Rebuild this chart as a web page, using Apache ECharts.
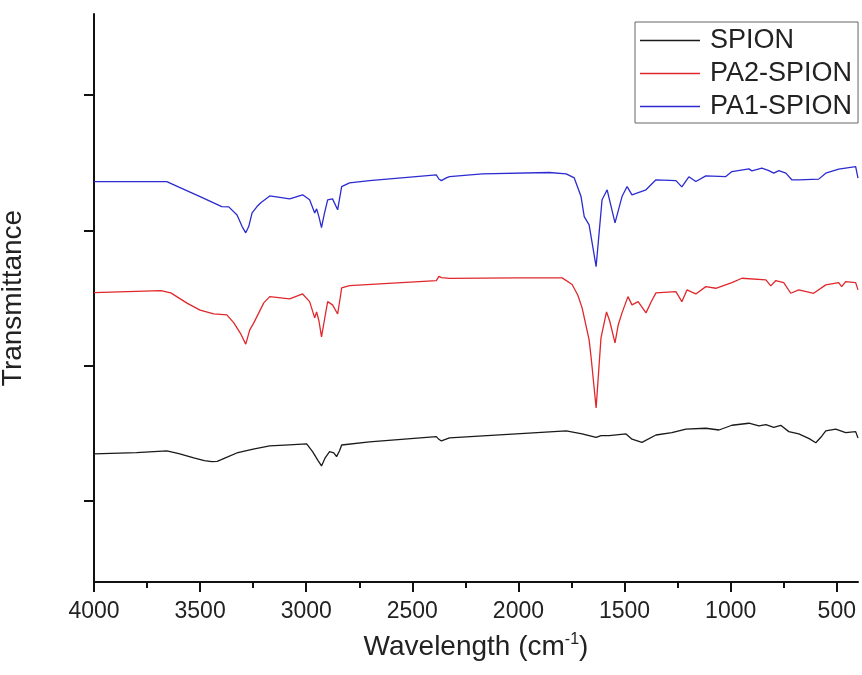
<!DOCTYPE html>
<html>
<head>
<meta charset="utf-8">
<script src="https://cdn.jsdelivr.net/npm/echarts@6/dist/echarts.min.js"></script>
<style>
  html, body { margin: 0; padding: 0; background: #fff; }
  #chart { width: 862px; height: 675px; }
</style>
</head>
<body>
<div id="chart"></div>
<script>
// wavenumber (cm-1), transmittance in arbitrary offset units
var spionWn = [4000, 3800, 3657, 3600, 3530, 3480, 3445, 3420, 3403, 3370, 3327, 3250, 3172, 3080, 2998, 2970, 2945, 2928, 2910, 2890, 2870, 2857, 2843, 2833, 2702, 2387, 2375, 2363, 2325, 2010, 1775, 1700, 1634, 1611, 1573, 1493, 1465, 1418, 1352, 1277, 1211, 1117, 1055, 994, 914, 867, 834, 797, 764, 726, 679, 630, 599, 575, 552, 505, 458, 411, 400];
var spionT = [0.347, 0.356, 0.369, 0.350, 0.317, 0.298, 0.290, 0.292, 0.303, 0.325, 0.354, 0.382, 0.406, 0.414, 0.421, 0.364, 0.300, 0.258, 0.320, 0.364, 0.355, 0.327, 0.370, 0.413, 0.436, 0.475, 0.455, 0.443, 0.465, 0.495, 0.517, 0.495, 0.469, 0.482, 0.482, 0.495, 0.456, 0.433, 0.487, 0.504, 0.530, 0.537, 0.524, 0.559, 0.574, 0.554, 0.564, 0.544, 0.559, 0.512, 0.495, 0.460, 0.430, 0.470, 0.517, 0.530, 0.504, 0.512, 0.465];

var pa2Wn = [4000, 3685, 3638, 3560, 3500, 3436, 3374, 3341, 3310, 3285, 3266, 3247, 3200, 3172, 3078, 3017, 2984, 2960, 2951, 2940, 2928, 2915, 2899, 2876, 2852, 2840, 2833, 2796, 2387, 2375, 2363, 2325, 2010, 1794, 1747, 1720, 1700, 1667, 1658, 1634, 1611, 1585, 1570, 1545, 1530, 1512, 1484, 1465, 1436, 1399, 1375, 1352, 1258, 1230, 1206, 1164, 1117, 1070, 994, 947, 834, 811, 787, 750, 717, 679, 609, 552, 491, 477, 458, 411, 400];
var pa2T = [1.540, 1.555, 1.538, 1.460, 1.410, 1.382, 1.375, 1.316, 1.239, 1.159, 1.264, 1.316, 1.464, 1.510, 1.493, 1.530, 1.473, 1.353, 1.397, 1.330, 1.212, 1.330, 1.473, 1.449, 1.382, 1.500, 1.575, 1.592, 1.629, 1.660, 1.651, 1.645, 1.649, 1.649, 1.600, 1.520, 1.427, 1.190, 1.067, 0.687, 1.205, 1.397, 1.330, 1.168, 1.300, 1.390, 1.510, 1.449, 1.473, 1.390, 1.470, 1.538, 1.547, 1.473, 1.560, 1.530, 1.584, 1.572, 1.614, 1.646, 1.634, 1.590, 1.629, 1.614, 1.535, 1.560, 1.535, 1.597, 1.614, 1.584, 1.621, 1.614, 1.560];

var pa1Wn = [4000, 3657, 3600, 3500, 3398, 3365, 3326, 3302, 3285, 3271, 3255, 3232, 3214, 3172, 3078, 3017, 2984, 2960, 2951, 2940, 2928, 2915, 2899, 2876, 2852, 2840, 2833, 2796, 2702, 2387, 2375, 2363, 2340, 2325, 2170, 1855, 1775, 1737, 1705, 1690, 1667, 1658, 1634, 1606, 1582, 1545, 1512, 1488, 1465, 1399, 1352, 1258, 1230, 1197, 1164, 1117, 1023, 994, 914, 900, 853, 820, 797, 773, 740, 712, 679, 585, 552, 491, 411, 400];
var pa1T = [2.361, 2.361, 2.320, 2.250, 2.176, 2.174, 2.114, 2.028, 1.982, 2.028, 2.129, 2.176, 2.204, 2.255, 2.233, 2.263, 2.226, 2.129, 2.159, 2.100, 2.021, 2.120, 2.226, 2.233, 2.152, 2.260, 2.324, 2.351, 2.368, 2.410, 2.380, 2.368, 2.388, 2.398, 2.418, 2.428, 2.418, 2.388, 2.250, 2.102, 2.041, 2.028, 1.732, 2.226, 2.300, 2.056, 2.250, 2.324, 2.263, 2.300, 2.374, 2.368, 2.322, 2.396, 2.361, 2.403, 2.398, 2.435, 2.455, 2.440, 2.460, 2.442, 2.423, 2.442, 2.423, 2.374, 2.374, 2.379, 2.423, 2.453, 2.472, 2.386];

var seriesNames = ['SPION', 'PA2-SPION', 'PA1-SPION'];
var xMajor = [500, 1000, 1500, 2000, 2500, 3000, 3500, 4000];
var xMinor = [750, 1250, 1750, 2250, 2750, 3250, 3750];
var yTicks = [0, 1, 2, 3];

function zip(xs, ys) {
  var out = [];
  for (var i = 0; i < xs.length; i++) out.push([xs[i], ys[i]]);
  return out;
}

var font = 'Liberation Sans, Arial, sans-serif';
var chart = echarts.init(document.getElementById('chart'));

chart.setOption({
  animation: false,
  backgroundColor: '#fff',
  grid: { left: 94, top: 14, right: 4, bottom: 93, containLabel: false, outerBoundsMode: 'none' },
  legend: {
    orient: 'vertical',
    left: 635,
    top: 22,
    icon: 'rect',
    itemWidth: 60,
    itemHeight: 1.5,
    itemGap: 6,
    padding: [5, 6, 3, 5],
    borderColor: '#666',
    borderWidth: 1,
    textStyle: { fontFamily: font, fontSize: 27, lineHeight: 27, color: '#222', padding: [0, 0, 0, 5] },
    data: seriesNames
  },
  xAxis: [{
    type: 'value',
    min: 400,
    max: 4000,
    inverse: true,
    name: '{a|Wavelength (cm}{s|-1}{a|)}',
    nameLocation: 'middle',
    nameGap: 50,
    nameTextStyle: {
      rich: {
        a: { fontFamily: font, fontSize: 28, color: '#222' },
        s: { fontFamily: font, fontSize: 16, color: '#222', verticalAlign: 'top', padding: [0, 0, 14, 0] }
      }
    },
    axisLine: { show: true, onZero: false, lineStyle: { color: '#111', width: 2 } },
    axisTick: { show: true, inside: false, length: 10, lineStyle: { color: '#111', width: 2 }, customValues: xMajor },
    axisLabel: { show: true, margin: 18, fontFamily: font, fontSize: 23, color: '#222', customValues: xMajor, formatter: function (v) { return String(v); } },
    splitLine: { show: false }
  }, {
    type: 'value',
    min: 400,
    max: 4000,
    inverse: true,
    position: 'top',
    offset: -568,
    axisLine: { show: false, onZero: false },
    axisTick: { show: true, inside: true, length: 6, lineStyle: { color: '#111', width: 2 }, customValues: xMinor },
    axisLabel: { show: false },
    splitLine: { show: false }
  }],
  yAxis: {
    type: 'value',
    min: -0.6,
    max: 3.6,
    name: 'Transmittance',
    nameLocation: 'middle',
    nameGap: 67,
    nameTextStyle: { fontFamily: font, fontSize: 28, color: '#222' },
    axisLine: { show: true, onZero: false, lineStyle: { color: '#111', width: 2 } },
    axisTick: { show: true, inside: false, length: 10, lineStyle: { color: '#111', width: 2 }, customValues: yTicks },
    axisLabel: { show: false },
    splitLine: { show: false }
  },
  series: [{
    name: 'SPION',
    type: 'line',
    symbol: 'none',
    data: zip(spionWn, spionT),
    lineStyle: { color: '#1a1a1a', width: 1.3 },
    itemStyle: { color: '#1a1a1a' }
  }, {
    name: 'PA2-SPION',
    type: 'line',
    symbol: 'none',
    data: zip(pa2Wn, pa2T),
    lineStyle: { color: '#e0282c', width: 1.3 },
    itemStyle: { color: '#e0282c' }
  }, {
    name: 'PA1-SPION',
    type: 'line',
    symbol: 'none',
    data: zip(pa1Wn, pa1T),
    lineStyle: { color: '#2b2bd0', width: 1.3 },
    itemStyle: { color: '#2b2bd0' }
  }]
});
</script>
</body>
</html>
